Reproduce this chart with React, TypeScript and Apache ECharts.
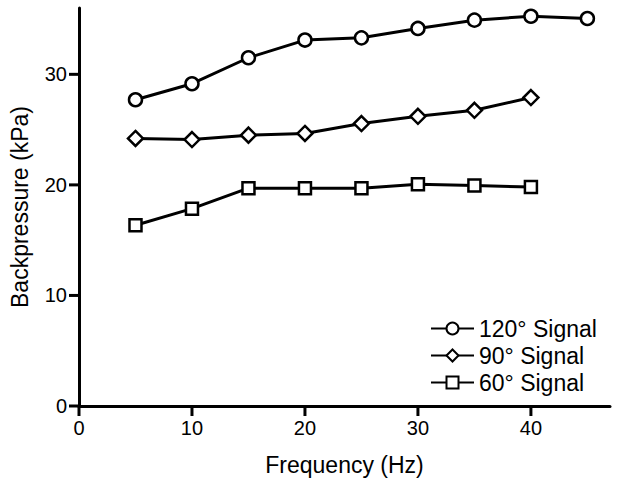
import React, { useEffect, useRef } from "react";
import * as echarts from "echarts";

const frequencies = [5, 10, 15, 20, 25, 30, 35, 40, 45];
const signal120 = [27.7, 29.15, 31.5, 33.1, 33.3, 34.15, 34.9, 35.25, 35.05];
const signal90 = [24.2, 24.1, 24.5, 24.65, 25.55, 26.2, 26.75, 27.9];
const signal60 = [16.35, 17.85, 19.7, 19.7, 19.7, 20.05, 19.95, 19.8];
const xTicks = [0, 10, 20, 30, 40];
const yTicks = [0, 10, 20, 30];
const seriesNames = ["120° Signal", "90° Signal", "60° Signal"];

const FONT = "'Liberation Sans', Arial, Helvetica, sans-serif";

function pair(vals: number[]) {
  return vals.map((v, i) => [frequencies[i], v]);
}

export default function App() {
  const ref = useRef<HTMLDivElement>(null);
  useEffect(() => {
    if (!ref.current) return;
    const chart = echarts.init(ref.current, undefined, { renderer: "svg" });
    const mk = (name: string, data: number[], symbol: string, size: number) => ({
      name,
      type: "line",
      data: pair(data),
      symbol,
      symbolSize: size,
      showAllSymbol: true,
      lineStyle: { color: "#000", width: 3 },
      itemStyle: { color: "#fff", borderColor: "#000", borderWidth: 2.5 },
      emphasis: { disabled: true },
      z: 3,
    });
    const axisCommon = {
      axisLine: { show: true, onZero: false, lineStyle: { color: "#000", width: 3 } },
      splitLine: { show: false },
      axisTick: { show: false },
      nameTextStyle: { color: "#000", fontSize: 23, fontFamily: FONT },
    };
    chart.setOption({
      animation: false,
      backgroundColor: "#fff",
      grid: { left: 79, right: 8, top: 8, bottom: 77, containLabel: false },
      legend: {
        orient: "vertical",
        left: 425,
        top: 312,
        padding: 5,
        itemWidth: 43,
        itemHeight: 15,
        itemGap: 4,
        data: seriesNames,
        textStyle: { color: "#000", fontSize: 23, fontFamily: FONT },
      },
      xAxis: {
        type: "value",
        min: 0,
        max: 47,
        interval: 10,
        name: "Frequency (Hz)",
        nameLocation: "middle",
        nameGap: 47,
        ...axisCommon,
        axisLabel: {
          customValues: xTicks,
          color: "#000",
          fontSize: 20,
          fontFamily: FONT,
          margin: 12,
        },
      },
      yAxis: {
        type: "value",
        min: 0,
        max: 36,
        interval: 10,
        name: "Backpressure (kPa)",
        nameLocation: "middle",
        nameGap: 48,
        ...axisCommon,
        axisLabel: {
          customValues: yTicks,
          color: "#000",
          fontSize: 20,
          fontFamily: FONT,
          margin: 12,
        },
      },
      series: [
        mk(seriesNames[0], signal120, "circle", 13),
        mk(seriesNames[1], signal90, "diamond", 15),
        mk(seriesNames[2], signal60, "rect", 12),
      ],
    });
    // tick marks placed through the axes' own scales
    const x0 = chart.convertToPixel({ xAxisIndex: 0 }, 0) as number;
    const y0 = chart.convertToPixel({ yAxisIndex: 0 }, 0) as number;
    const tickEls: any[] = [];
    xTicks.forEach((v) => {
      const px = chart.convertToPixel({ xAxisIndex: 0 }, v) as number;
      tickEls.push({
        type: "rect",
        shape: { x: px - 1.5, y: y0, width: 3, height: 10 },
        style: { fill: "#000" },
        silent: true,
        z: 100,
      });
    });
    yTicks.forEach((v) => {
      const py = chart.convertToPixel({ yAxisIndex: 0 }, v) as number;
      tickEls.push({
        type: "rect",
        shape: { x: x0 - 10, y: py - 1.5, width: 10, height: 3 },
        style: { fill: "#000" },
        silent: true,
        z: 100,
      });
    });
    chart.setOption({ graphic: tickEls });
    return () => chart.dispose();
  }, []);
  return <div ref={ref} style={{ width: 618, height: 483, position: "absolute", left: 0, top: 0 }} />;
}
